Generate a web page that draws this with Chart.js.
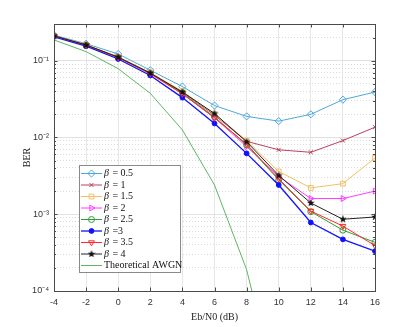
<!DOCTYPE html>
<html>
<head>
<meta charset="utf-8">
<script src="https://cdn.jsdelivr.net/npm/chart.js@4/dist/chart.umd.min.js"></script>
<style>
  html, body { margin: 0; padding: 0; background: #fff; }
  #wrap { width: 415px; height: 327px; }
</style>
</head>
<body>
<div id="wrap"><canvas id="c" width="415" height="327"></canvas></div>
<script>
// ---- data ----
const ebn0 = [-4, -2, 0, 2, 4, 6, 8, 10, 12, 14, 16];
const xTicks = [-4, -2, 0, 2, 4, 6, 8, 10, 12, 14, 16];
const yMajorTicks = [1e-4, 1e-3, 1e-2, 1e-1];
const yTickLabels = ['10\u207B\u2074', '10\u207B\u00B3', '10\u207B\u00B2', '10\u207B\u00B9'];
const yMinorTicks = [2e-4,3e-4,4e-4,5e-4,6e-4,7e-4,8e-4,9e-4,
                     2e-3,3e-3,4e-3,5e-3,6e-3,7e-3,8e-3,9e-3,
                     2e-2,3e-2,4e-2,5e-2,6e-2,7e-2,8e-2,9e-2,
                     2e-1];
const seriesLabels = ['\u03B2 = 0.5', '\u03B2 = 1', '\u03B2 = 1.5', '\u03B2 = 2', '\u03B2 = 2.5', '\u03B2 =3', '\u03B2 = 3.5', '\u03B2 = 4', 'Theoretical AWGN'];
const berB05 = [0.215, 0.166, 0.122, 0.075, 0.046, 0.026, 0.0188, 0.0163, 0.0200, 0.0310, 0.0390];
const berB1  = [0.210, 0.160, 0.111, 0.069, 0.039, 0.0195, 0.0089, 0.0069, 0.0064, 0.0091, 0.0136];
const berB15 = [0.210, 0.161, 0.112, 0.070, 0.040, 0.0200, 0.0091, 0.0036, 0.0022, 0.0025, 0.0054];
const berB2  = [0.208, 0.158, 0.109, 0.067, 0.037, 0.0180, 0.0076, 0.0031, 0.0016, 0.0016, 0.0020];
const berB25 = [0.209, 0.159, 0.110, 0.068, 0.038, 0.0185, 0.0080, 0.0028, 0.00108, 0.00062, 0.00043];
const berB3  = [0.204, 0.154, 0.105, 0.064, 0.033, 0.0152, 0.0062, 0.0024, 0.00078, 0.00047, 0.00033];
const berB35 = [0.209, 0.159, 0.110, 0.068, 0.037, 0.0180, 0.0082, 0.0029, 0.00110, 0.00070, 0.00039];
const berB4  = [0.210, 0.160, 0.111, 0.069, 0.039, 0.0205, 0.0088, 0.0032, 0.00140, 0.00086, 0.00092];
const berAWGN = [0.186, 0.131, 0.0786, 0.0375, 0.0125, 0.0024, 0.00019, 0.0000039, null, null, null];

// ---- styles ----
function starCanvas(size, color) {
  const cv = document.createElement('canvas');
  cv.width = size; cv.height = size;
  const g = cv.getContext('2d');
  const cx = size / 2, cy = size / 2, R = size / 2, r = R * 0.42;
  g.beginPath();
  for (let i = 0; i < 10; i++) {
    const a = -Math.PI / 2 + i * Math.PI / 5;
    const rr = (i % 2 === 0) ? R : r;
    g.lineTo(cx + rr * Math.cos(a), cy + rr * Math.sin(a));
  }
  g.closePath();
  g.fillStyle = color; g.fill();
  return cv;
}
const starImg = starCanvas(8, '#111');

const seriesData = [berB05, berB1, berB15, berB2, berB25, berB3, berB35, berB4, berAWGN];
const styles = [
  {color: '#4DA8DA', point: 'rectRot', radius: 3.6, rot: 0, fill: false, bw: 1},
  {color: '#B8405E', point: 'crossRot', radius: 2.8, rot: 0, fill: false, bw: 1},
  {color: '#F2C063', point: 'rect', radius: 3.4, rot: 0, fill: false, bw: 1},
  {color: '#FF3CFF', point: 'triangle', radius: 3.4, rot: 90, fill: false, bw: 1},
  {color: '#2E9E3A', point: 'circle', radius: 3, rot: 0, fill: false, bw: 1},
  {color: '#1010FF', point: 'circle', radius: 2.4, rot: 0, fill: true, bw: 1.3},
  {color: '#FF2A2A', point: 'triangle', radius: 3.4, rot: 180, fill: false, bw: 1},
  {color: '#222222', point: starImg, radius: 4, rot: 0, fill: true, bw: 1},
  {color: '#4CAF50', point: false, radius: 0, rot: 0, fill: false, bw: 0.9}
];

const datasets = seriesData.map((d, i) => {
  const s = styles[i];
  return {
    label: seriesLabels[i],
    data: ebn0.map((x, k) => ({x: x, y: d[k]})),
    borderColor: s.color,
    borderWidth: s.bw,
    backgroundColor: s.fill ? s.color : 'rgba(0,0,0,0)',
    pointStyle: s.point === false ? 'circle' : s.point,
    pointRadius: s.radius,
    pointRotation: s.rot,
    pointBorderColor: s.color,
    pointBackgroundColor: s.fill ? s.color : 'rgba(0,0,0,0)',
    pointBorderWidth: 1,
    pointHoverRadius: s.radius,
    tension: 0,
    spanGaps: false,
    order: -i,
    _sty: s
  };
});

// ---- plugins ----
const framePlugin = {
  id: 'frame',
  afterDatasetsDraw(chart) {
    const {ctx, chartArea: a, scales} = chart;
    ctx.save();
    ctx.strokeStyle = '#4a4a4a';
    ctx.lineWidth = 1;
    ctx.strokeRect(Math.round(a.left) + 0.5, Math.round(a.top) + 0.5,
                   Math.round(a.right - a.left), Math.round(a.bottom - a.top));
    ctx.beginPath();
    xTicks.forEach(v => {
      const px = Math.round(scales.x.getPixelForValue(v)) + 0.5;
      ctx.moveTo(px, a.bottom); ctx.lineTo(px, a.bottom - 3.5);
      ctx.moveTo(px, a.top); ctx.lineTo(px, a.top + 3.5);
    });
    yMajorTicks.forEach(v => {
      const py = Math.round(scales.y.getPixelForValue(v)) + 0.5;
      ctx.moveTo(a.left, py); ctx.lineTo(a.left + 3.5, py);
      ctx.moveTo(a.right, py); ctx.lineTo(a.right - 3.5, py);
    });
    yMinorTicks.forEach(v => {
      const py = Math.round(scales.y.getPixelForValue(v)) + 0.5;
      ctx.moveTo(a.left, py); ctx.lineTo(a.left + 2, py);
      ctx.moveTo(a.right, py); ctx.lineTo(a.right - 2, py);
    });
    ctx.stroke();
    ctx.restore();
  }
};

const legendPlugin = {
  id: 'boxLegend',
  afterDraw(chart) {
    const ctx = chart.ctx;
    const bx = 79.5, by = 165.5, bw = 101, bh = 107;
    ctx.save();
    ctx.fillStyle = '#fff';
    ctx.fillRect(bx, by, bw, bh);
    ctx.strokeStyle = '#8a8a8a';
    ctx.lineWidth = 1;
    ctx.strokeRect(bx, by, bw, bh);
    const rowH = 11.5, y0 = 173.5;
    chart.data.datasets.forEach((ds, i) => {
      const s = ds._sty;
      const y = y0 + i * rowH;
      ctx.strokeStyle = s.color;
      ctx.lineWidth = s.bw;
      ctx.beginPath(); ctx.moveTo(81, y); ctx.lineTo(102, y); ctx.stroke();
      if (s.point !== false) {
        ctx.fillStyle = s.fill ? s.color : 'rgba(0,0,0,0)';
        ctx.strokeStyle = s.color;
        ctx.lineWidth = 1;
        Chart.helpers.drawPoint(ctx, {pointStyle: s.point, rotation: s.rot, radius: s.radius, borderWidth: 1}, 91.5, y);
      }
      ctx.fillStyle = '#111';
      ctx.textBaseline = 'middle';
      ctx.textAlign = 'left';
      const lab = ds.label;
      let tx = 104;
      if (lab.charAt(0) === '\u03B2') {
        ctx.font = 'italic 10px "Liberation Serif"';
        ctx.fillText('\u03B2', tx, y);
        tx += ctx.measureText('\u03B2').width + 1;
        ctx.font = '10px "Liberation Serif"';
        ctx.fillText(lab.slice(1), tx, y);
      } else {
        ctx.font = '10px "Liberation Serif"';
        ctx.fillText(lab, tx, y);
      }
    });
    ctx.restore();
  }
};

new Chart(document.getElementById('c'), {
  type: 'line',
  data: {datasets: datasets},
  options: {
    responsive: false,
    animation: false,
    devicePixelRatio: 1,
    layout: {padding: {left: 0, right: 40, top: 24, bottom: 0}},
    plugins: {legend: {display: false}, tooltip: {enabled: false}},
    scales: {
      x: {
        type: 'linear', min: -4, max: 16,
        afterBuildTicks: sc => { sc.ticks = xTicks.map(v => ({value: v})); },
        afterFit: sc => { sc.height = 36; },
        grid: {color: '#e6e6e6', lineWidth: 1, drawTicks: false},
        border: {display: false},
        ticks: {padding: 6, color: '#333', font: {family: '"Liberation Sans", Arial', size: 9},
                callback: v => String(v), maxRotation: 0, autoSkip: false},
        title: {display: true, text: 'Eb/N0 (dB)', color: '#222',
                font: {family: '"Liberation Serif"', size: 10}, padding: {top: 0, bottom: 4}}
      },
      y: {
        type: 'logarithmic', min: 1e-4, max: 0.3, position: 'left',
        afterBuildTicks: sc => { sc.ticks = yMajorTicks.map(v => ({value: v})); },
        afterFit: sc => { sc.width = 54; },
        grid: {color: '#e2e2e2', lineWidth: 1, drawTicks: false},
        border: {display: false},
        ticks: {padding: 5, color: '#333', font: {family: '"Liberation Sans", Arial', size: 9},
                callback: v => { const k = yMajorTicks.findIndex(t => Math.abs(t - v) / t < 1e-6); return k >= 0 ? yTickLabels[k] : ''; },
                autoSkip: false},
        title: {display: true, text: 'BER', color: '#222',
                font: {family: '"Liberation Serif"', size: 10}, padding: {top: 21, bottom: 0}}
      },
      yMinor: {
        type: 'logarithmic', min: 1e-4, max: 0.3, position: 'left',
        afterBuildTicks: sc => { sc.ticks = yMinorTicks.map(v => ({value: v})); },
        afterFit: sc => { sc.width = 0; },
        grid: {color: '#dadada', lineWidth: 1, drawTicks: false},
        border: {display: false, dash: [1, 2]},
        ticks: {display: false}
      }
    }
  },
  plugins: [framePlugin, legendPlugin]
});
</script>
</body>
</html>
